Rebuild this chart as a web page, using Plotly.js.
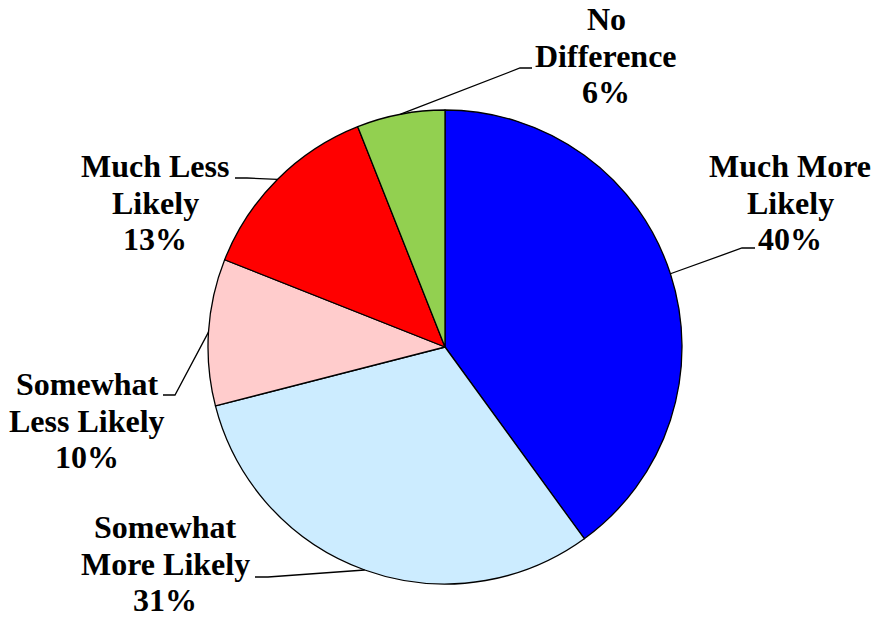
<!DOCTYPE html>
<html>
<head>
<meta charset="utf-8">
<script src="https://cdn.plot.ly/plotly-3.0.1.min.js"></script>
<style>
html,body{margin:0;padding:0;background:#fff;}
#chart{width:875px;height:617px;}
#chart text, #chart tspan { font-family: 'Liberation Serif', 'Times New Roman', serif !important; }
</style>
</head>
<body>
<div id="chart"></div>
<script>
// ---- data ----
const categories = ['Much More Likely', 'Somewhat More Likely', 'Somewhat Less Likely', 'Much Less Likely', 'No Difference'];
const values = [40, 31, 10, 13, 6];
const labelLines = [['Much More', 'Likely'], ['Somewhat', 'More Likely'], ['Somewhat', 'Less Likely'], ['Much Less', 'Likely'], ['No', 'Difference']];
const colors = ['#0000FF', '#CCECFF', '#FFCCCC', '#FF0000', '#92D050'];

// ---- layout (pixel positions of label blocks and leader elbows) ----
const W = 875, H = 617;
const cx = 445, cy = 347, R = 237;
const FONT = 32, LINE = 36.5;
const FAMILY = 'Liberation Serif';
const labelPos = [
  {x: 790, y: 177, elbow: [742, 248], end: [755, 248]},
  {x: 165, y: 538, elbow: [268, 577], end: [255, 577]},
  {x: 87, y: 395, elbow: [175, 395], end: [163, 395]},
  {x: 155, y: 177, elbow: [247, 178], end: [235, 178]},
  {x: 606, y: 30, elbow: [520, 68], end: [532, 68]}
];

const px = x => x / W;
const py = y => 1 - y / H;

const total = values.reduce((a, b) => a + b, 0);
const annotations = [];
const shapes = [];
let cum = 0;
values.forEach((v, i) => {
  const mid = (cum + v / 2) / total * 2 * Math.PI;
  cum += v;
  const ex = cx + R * Math.sin(mid), ey = cy - R * Math.cos(mid);
  const lp = labelPos[i];
  const lines = labelLines[i].concat([Math.round(v / total * 100) + '%']);
  lines.forEach((t, k) => {
    annotations.push({
      xref: 'paper', yref: 'paper', x: px(lp.x), y: py(lp.y + k * LINE - 0.33 * FONT),
      xanchor: 'center', yanchor: 'middle', showarrow: false, text: '<b>' + t + '</b>',
      font: {family: FAMILY, size: FONT, color: '#000000'}
    });
  });
  shapes.push({
    type: 'path', xref: 'paper', yref: 'paper',
    path: `M ${px(ex)} ${py(ey)} L ${px(lp.elbow[0])} ${py(lp.elbow[1])} L ${px(lp.end[0])} ${py(lp.end[1])}`,
    line: {color: '#000', width: 1.3}
  });
});

const data = [{
  type: 'pie',
  labels: categories,
  values: values,
  sort: false,
  direction: 'clockwise',
  rotation: 0,
  textinfo: 'none',
  hoverinfo: 'label+percent',
  marker: {colors: colors, line: {color: '#000', width: 1.3}},
  domain: {x: [px(cx - R), px(cx + R)], y: [py(cy + R), py(cy - R)]},
  showlegend: false
}];

const layout = {
  width: W, height: H,
  margin: {l: 0, r: 0, t: 0, b: 0},
  paper_bgcolor: '#fff', plot_bgcolor: '#fff',
  font: {family: FAMILY},
  showlegend: false,
  annotations: annotations,
  shapes: shapes
};

Plotly.newPlot('chart', data, layout, {staticPlot: true}).then(gd => {
  gd.querySelectorAll('text').forEach(el => {
    el.style.setProperty('font-family', "'Liberation Serif', serif", 'important');
  });
});
</script>
</body>
</html>
